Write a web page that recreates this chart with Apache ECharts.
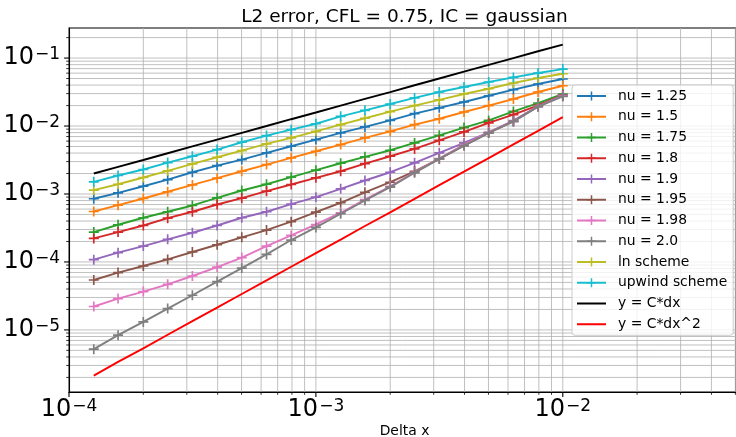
<!DOCTYPE html>
<html>
<head>
<meta charset="utf-8">
<script src="https://cdn.jsdelivr.net/npm/echarts@6/dist/echarts.min.js"></script>
<style>html,body{margin:0;padding:0;background:#fff}#c{width:736px;height:437px}</style>
</head>
<body>
<div id="c"></div>
<script>
const dx = [1.26e-4, 1.58e-4, 2.00e-4, 2.51e-4, 3.16e-4, 3.98e-4, 5.01e-4, 6.31e-4, 7.94e-4, 1.00e-3, 1.26e-3, 1.58e-3, 2.00e-3, 2.51e-3, 3.16e-3, 3.98e-3, 5.01e-3, 6.31e-3, 7.94e-3, 1.00e-2];
const nu125 = [8.51e-4, 1.04e-3, 1.30e-3, 1.63e-3, 2.09e-3, 2.62e-3, 3.21e-3, 4.03e-3, 5.04e-3, 6.31e-3, 7.92e-3, 9.70e-3, 1.21e-2, 1.52e-2, 1.85e-2, 2.26e-2, 2.79e-2, 3.43e-2, 4.15e-2, 4.92e-2];
const nu150 = [5.53e-4, 6.85e-4, 8.59e-4, 1.08e-3, 1.36e-3, 1.71e-3, 2.16e-3, 2.71e-3, 3.40e-3, 4.25e-3, 5.33e-3, 6.68e-3, 8.36e-3, 1.05e-2, 1.28e-2, 1.61e-2, 2.00e-2, 2.50e-2, 3.17e-2, 3.92e-2];
const nu175 = [2.75e-4, 3.53e-4, 4.47e-4, 5.48e-4, 6.78e-4, 8.79e-4, 1.125e-3, 1.39e-3, 1.77e-3, 2.24e-3, 2.83e-3, 3.52e-3, 4.40e-3, 5.65e-3, 7.30e-3, 9.48e-3, 1.21e-2, 1.64e-2, 2.18e-2, 2.96e-2];
const nu180 = [2.22e-4, 2.75e-4, 3.44e-4, 4.41e-4, 5.48e-4, 7.01e-4, 8.67e-4, 1.10e-3, 1.38e-3, 1.73e-3, 2.16e-3, 2.80e-3, 3.59e-3, 4.61e-3, 6.17e-3, 8.19e-3, 1.11e-2, 1.47e-2, 2.01e-2, 2.86e-2];
const nu190 = [1.08e-4, 1.37e-4, 1.71e-4, 2.15e-4, 2.69e-4, 3.44e-4, 4.47e-4, 5.48e-4, 7.08e-4, 8.97e-4, 1.19e-3, 1.58e-3, 2.09e-3, 2.87e-3, 4.03e-3, 5.65e-3, 8.07e-3, 1.20e-2, 1.95e-2, 2.82e-2];
const nu195 = [5.42e-5, 6.97e-5, 8.71e-5, 1.09e-4, 1.40e-4, 1.79e-4, 2.30e-4, 2.94e-4, 3.91e-4, 5.40e-4, 7.43e-4, 1.06e-3, 1.49e-3, 2.16e-3, 3.29e-3, 5.15e-3, 7.92e-3, 1.17e-2, 1.94e-2, 2.79e-2];
const nu198 = [2.21e-5, 2.89e-5, 3.66e-5, 4.69e-5, 6.21e-5, 8.41e-5, 1.16e-4, 1.71e-4, 2.46e-4, 3.56e-4, 5.30e-4, 8.30e-4, 1.30e-3, 2.09e-3, 3.32e-3, 5.33e-3, 8.07e-3, 1.17e-2, 1.95e-2, 2.79e-2];
const nu200 = [5.21e-6, 8.36e-6, 1.31e-5, 2.06e-5, 3.24e-5, 5.14e-5, 8.13e-5, 1.29e-4, 2.10e-4, 3.22e-4, 5.12e-4, 8.03e-4, 1.26e-3, 2.05e-3, 3.29e-3, 5.15e-3, 7.92e-3, 1.17e-2, 1.93e-2, 2.73e-2];
const lnScheme = [1.14e-3, 1.39e-3, 1.75e-3, 2.19e-3, 2.77e-3, 3.47e-3, 4.35e-3, 5.46e-3, 6.68e-3, 8.36e-3, 1.05e-2, 1.30e-2, 1.63e-2, 2.00e-2, 2.42e-2, 2.96e-2, 3.54e-2, 4.30e-2, 5.08e-2, 5.88e-2];
const upwind = [1.51e-3, 1.87e-3, 2.29e-3, 2.90e-3, 3.59e-3, 4.50e-3, 5.77e-3, 7.23e-3, 8.85e-3, 1.08e-2, 1.39e-2, 1.70e-2, 2.11e-2, 2.59e-2, 3.17e-2, 3.75e-2, 4.44e-2, 5.19e-2, 6.02e-2, 6.89e-2];
const refC1 = [2.00e-3, 2.51e-3, 3.16e-3, 3.98e-3, 5.01e-3, 6.31e-3, 7.94e-3, 1.00e-2, 1.26e-2, 1.58e-2, 2.00e-2, 2.51e-2, 3.16e-2, 3.98e-2, 5.01e-2, 6.31e-2, 7.94e-2, 1.00e-1, 1.26e-1, 1.58e-1];
const refC2 = [2.13e-6, 3.38e-6, 5.36e-6, 8.49e-6, 1.35e-5, 2.13e-5, 3.38e-5, 5.36e-5, 8.49e-5, 1.35e-4, 2.13e-4, 3.38e-4, 5.36e-4, 8.49e-4, 1.35e-3, 2.13e-3, 3.38e-3, 5.36e-3, 8.49e-3, 1.35e-2];

const seriesNames = ['nu = 1.25','nu = 1.5','nu = 1.75','nu = 1.8','nu = 1.9','nu = 1.95','nu = 1.98','nu = 2.0','ln scheme','upwind scheme','y = C*dx','y = C*dx^2'];
const seriesValues = [nu125, nu150, nu175, nu180, nu190, nu195, nu198, nu200, lnScheme, upwind, refC1, refC2];
const colors = ['#1f77b4','#ff7f0e','#2ca02c','#d62728','#9467bd','#8c564b','#e377c2','#7f7f7f','#bcbd22','#17becf','#000000','#ff0000'];
const withMarker = [true,true,true,true,true,true,true,true,true,true,false,false];

const xMin = 1e-4, xMax = 0.0503;
const yMin = 1.22e-6, yMax = 0.277;
const xDecades = [-4, -3, -2, -1];
const yDecades = [-6, -5, -4, -3, -2, -1];

const FONT = 'DejaVu Sans';
const PLUS = 'path://M5,0H7V5H12V7H7V12H5V7H0V5H5Z';

// grid/tick positions (major 1x, minor 2..9x of each decade)
const gridItems = [];
xDecades.forEach(e => {
  for (let m = 1; m <= 9; m++) {
    const v = m * Math.pow(10, e);
    if (v >= xMin * 0.999 && v <= xMax) gridItems.push([v, 1e-3, 0, m === 1 ? 1 : 0]);
  }
});
yDecades.forEach(e => {
  for (let m = 1; m <= 9; m++) {
    const v = m * Math.pow(10, e);
    if (v >= yMin && v <= yMax) gridItems.push([1e-3, v, 1, m === 1 ? 1 : 0]);
  }
});

function powLabel(v) {
  const l = Math.log10(v);
  const e = Math.round(l);
  if (Math.abs(l - e) > 1e-6) return '';
  return '{b|10}{s|' + (e < 0 ? '\u2212' + (-e) : String(e)) + '}';
}
const labelRich = {
  b: {fontFamily: FONT, fontSize: 24, lineHeight: 24, color: '#000'},
  s: {fontFamily: FONT, fontSize: 17, lineHeight: 15.6, verticalAlign: 'top', color: '#000', padding: [0, 0, 0, 1]}
};

const series = [{
  type: 'custom',
  name: 'gridlines',
  coordinateSystem: 'cartesian2d',
  clip: false,
  silent: true,
  z: 0,
  data: gridItems,
  renderItem: function (params, api) {
    const cs = params.coordSys;
    const p = api.coord([api.value(0), api.value(1)]);
    const isY = api.value(2) === 1;
    const major = api.value(3) === 1;
    const tl = major ? 4.9 : 2.8;
    const tw = major ? 1.1 : 0.8;
    const children = [];
    if (!isY) {
      const x = p[0];
      children.push({type:'line', shape:{x1:x, y1:cs.y, x2:x, y2:cs.y+cs.height}, style:{stroke:'#b0b0b0', lineWidth:0.8}});
      children.push({type:'line', shape:{x1:x, y1:cs.y+cs.height, x2:x, y2:cs.y+cs.height+tl}, style:{stroke:'#000', lineWidth:tw}});
    } else {
      const y = p[1];
      children.push({type:'line', shape:{x1:cs.x, y1:y, x2:cs.x+cs.width, y2:y}, style:{stroke:'#b0b0b0', lineWidth:0.8}});
      children.push({type:'line', shape:{x1:cs.x-tl, y1:y, x2:cs.x, y2:y}, style:{stroke:'#000', lineWidth:tw}});
    }
    return {type:'group', children};
  }
}];

seriesNames.forEach((name, i) => {
  series.push({
    type: 'line',
    name: name,
    z: 2 + i * 0.01,
    data: dx.map((x, j) => [x, seriesValues[i][j]]),
    symbol: withMarker[i] ? PLUS : 'none',
    symbolSize: 10,
    showSymbol: withMarker[i],
    color: colors[i],
    itemStyle: {color: colors[i]},
    lineStyle: {color: colors[i], width: 1.9},
    emphasis: {disabled: true},
    animation: false
  });
});

const legendData = seriesNames.map((n, i) => withMarker[i] ? {name: n} : {name: n, itemStyle: {opacity: 0}});

const chart = echarts.init(document.getElementById('c'), null, {renderer: 'canvas'});
chart.setOption({
  animation: false,
  backgroundColor: '#ffffff',
  grid: {left: 69, top: 28, width: 671, height: 364, show: true, borderColor: '#000', borderWidth: 1.1, backgroundColor: 'transparent'},
  graphic: [{
    type: 'text', x: 404.5, y: 17, z: 10,
    style: {text: 'L2 error, CFL = 0.75, IC = gaussian', fill: '#000', font: '18.5px "DejaVu Sans"', textAlign: 'center', textVerticalAlign: 'middle'}
  }, {
    type: 'text', x: 404.5, y: 431.5, z: 10,
    style: {text: 'Delta x', fill: '#000', font: '13.9px "DejaVu Sans"', textAlign: 'center', textVerticalAlign: 'middle'}
  }],
  xAxis: {
    type: 'log', logBase: 10, min: xMin, max: xMax,
    axisLine: {show: true, lineStyle: {color: '#000', width: 1.1}},
    axisTick: {show: false},
    splitLine: {show: false},
    minorTick: {show: false},
    axisLabel: {show: true, formatter: powLabel, rich: labelRich, color: '#000', margin: 6, showMinLabel: true, showMaxLabel: false}
  },
  yAxis: {
    type: 'log', logBase: 10, min: yMin, max: yMax,
    axisLine: {show: true, lineStyle: {color: '#000', width: 1.1}},
    axisTick: {show: false},
    splitLine: {show: false},
    minorTick: {show: false},
    axisLabel: {show: true, formatter: powLabel, rich: labelRich, color: '#000', margin: 9}
  },
  legend: {
    data: legendData,
    orient: 'vertical',
    left: 572, top: 85,
    itemWidth: 29, itemHeight: 11, itemGap: 6.75,
    padding: [4, 6, 4, 4],
    backgroundColor: 'rgba(255,255,255,0.8)',
    borderColor: '#cccccc', borderWidth: 1, borderRadius: 3,
    textStyle: {fontFamily: FONT, fontSize: 13.9, color: '#000', padding: [0, 0, 0, 7]},
    selectedMode: false
  },
  series: series
});
</script>
</body>
</html>
